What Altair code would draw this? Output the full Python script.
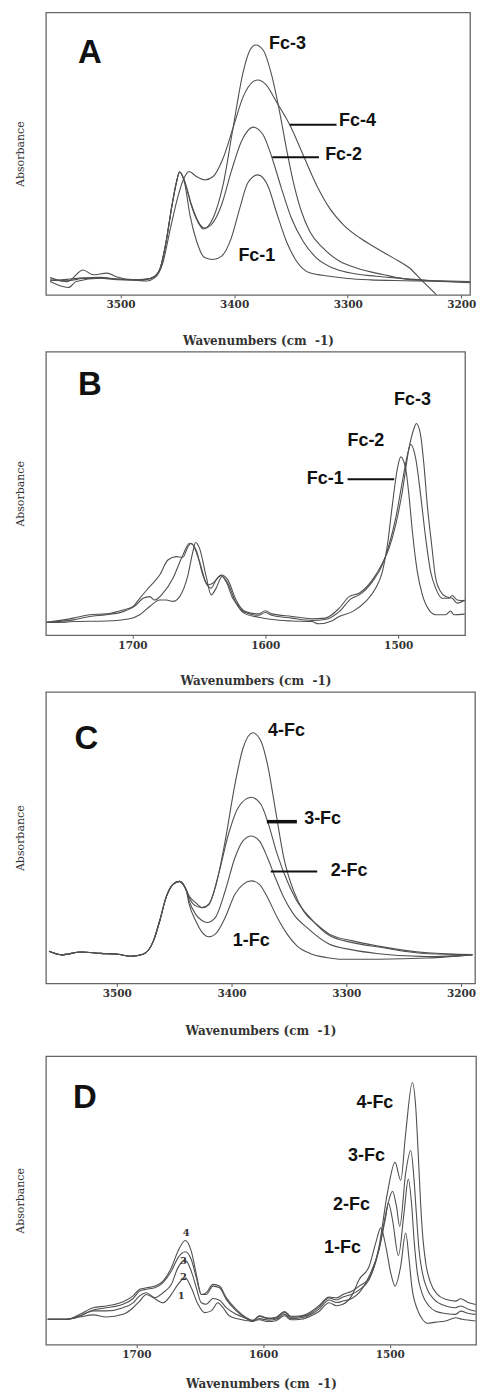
import altair as alt
import pandas as pd

# ---------------- Panel A (3560-3190 cm-1) ----------------
A_FC1_WN = [3562, 3547, 3533, 3524, 3512, 3503, 3489, 3477, 3470, 3465, 3460, 3455, 3451, 3448,
            3443.5, 3439, 3433, 3426, 3418.5, 3411, 3402.5, 3395, 3388, 3379, 3370, 3363, 3354,
            3345, 3333.5, 3316, 3300, 3280, 3250, 3225, 3192]
A_FC1_AB = [6.1, 4.7, 8.8, 7.1, 7.7, 6.3, 5.4, 5.6, 6.5, 9.5, 18.5, 31, 39.5, 43.5,
            39.5, 28.5, 19, 13.2, 12.5, 13.7, 20.1, 30.7, 39.6, 42.5, 38.4, 29.6, 19,
            11.9, 7.8, 6.6, 5.8, 5.3, 5.0, 4.8, 4.3]
A_FC2_WN = [3562, 3547, 3533, 3518, 3503, 3489, 3477, 3470, 3465, 3460, 3455, 3451, 3448,
            3443.5, 3437.6, 3430, 3426, 3420, 3411, 3402.5, 3393.6, 3383.3, 3374.5, 3367,
            3358.4, 3349.6, 3339.3, 3327.6, 3313, 3298.3, 3275, 3251, 3225, 3192]
A_FC2_AB = [5.0, 5.5, 6.0, 6.2, 5.6, 5.3, 5.5, 6.5, 9.5, 18.5, 31, 39.5, 43.5,
            40.2, 32, 24.9, 23.7, 24.9, 31.9, 43.7, 54.3, 59.4, 56.7, 49.0,
            37.8, 27.2, 19.0, 13.1, 9.5, 7.8, 6.6, 5.8, 5.0, 4.5]
A_FC3_WN = [3562, 3547, 3533, 3518, 3503, 3489, 3477, 3470, 3465, 3460, 3455, 3451, 3448,
            3443.5, 3437.6, 3430, 3427.3, 3418.5, 3409.7, 3401, 3392, 3386, 3381, 3374.5,
            3367, 3360, 3354, 3348, 3340.8, 3333.5, 3321.8, 3307, 3292.4, 3269, 3245.5, 3220, 3192]
A_FC3_AB = [5.3, 5.0, 5.8, 5.9, 5.4, 5.3, 5.5, 6.5, 9.5, 18.5, 31, 39.5, 43.5,
            40.0, 31.5, 24.5, 23.3, 27.2, 39.0, 59.0, 79.0, 86.7, 88.5, 86.7,
            77.9, 64.9, 51.9, 40.2, 29.6, 22.5, 16.6, 11.9, 9.5, 7.2, 5.4, 5.0, 4.7]
A_FC4_WN = [3562, 3546, 3539, 3518, 3503, 3489, 3477, 3470, 3463, 3456, 3450, 3445, 3439.6,
            3433.2, 3425.8, 3418.5, 3409.7, 3401, 3392, 3383.3, 3379, 3371.6, 3362.8, 3351,
            3339.3, 3327.6, 3316, 3304, 3289.5, 3275, 3260, 3245.5, 3234, 3225, 3215, 3205]
A_FC4_AB = [4.7, 2.6, 4.7, 5.9, 5.6, 5.3, 4.9, 6.0, 11.0, 23.7, 34.0, 40.5, 43.7,
            41.9, 40.7, 41.9, 48.4, 59.0, 70.2, 75.5, 76.1, 74.3, 68.4, 60.2,
            49.6, 39.0, 30.7, 24.9, 20.2, 16.6, 13.1, 9.5, 4.8, 1.3, -3.0, -7.0]

# ---------------- Panel B (1765-1450 cm-1) ----------------
B_FC1_WN = [1764.6, 1749.6, 1744.6, 1719.6, 1702, 1694.5, 1687, 1679.5, 1674.5, 1669.5,
            1664.5, 1658.2, 1654.5, 1652.5, 1649.5, 1644.5, 1640.7, 1637, 1632.5, 1628.2,
            1622, 1615, 1605, 1595, 1580, 1565, 1560, 1550, 1544.4, 1534.4,
            1524.4, 1516.9, 1511.9, 1508.1, 1504.4, 1500.6, 1498.1, 1494.4, 1491.9, 1489.3,
            1485.6, 1481.8, 1476.8, 1471.8, 1464.3, 1460.6, 1458.1, 1450]
B_FC1_AB = [4.5, 4.6, 4.8, 5.0, 5.8, 7.2, 10.1, 12.4, 12.4, 11.9,
            13.6, 21.2, 29.5, 32.7, 30.6, 20.7, 14.2, 16.6, 20.7, 18.3,
            11.3, 7.5, 6.3, 5.5, 5.0, 4.8, 4.0, 5.0, 6.6, 8.3,
            11.9, 16.6, 22.4, 31.8, 45.9, 58.8, 62.9, 58.8, 49.4, 36.5,
            22.4, 14.2, 8.9, 7.2, 7.2, 8.5, 7.2, 7.4]
B_FC2_WN = [1764.6, 1744.6, 1732.1, 1719.6, 1707, 1697, 1692, 1687, 1683.3, 1677,
            1669.5, 1662, 1657, 1652, 1647, 1643.2, 1639.5, 1633.2, 1628.2, 1622,
            1615, 1605, 1600, 1595, 1580, 1565, 1555, 1544.4, 1535.6, 1529.4,
            1519.4, 1511.9, 1506.9, 1501.9, 1496.9, 1493.1, 1490.6, 1486.8, 1483.1, 1479.3,
            1475.6, 1471.8, 1466.8, 1461.8, 1459.3, 1455.6, 1450]
B_FC2_AB = [4.5, 5.4, 6.6, 7.2, 8.3, 10.7, 13.0, 13.6, 12.4, 14.8,
            20.1, 28.3, 32.4, 30.0, 21.2, 17.7, 18.3, 21.2, 19.5, 12.4,
            8.0, 7.0, 8.0, 7.0, 6.0, 5.2, 5.5, 8.3, 12.8, 14.2,
            18.9, 24.8, 31.8, 41.2, 54.1, 63.5, 67.3, 62.3, 49.4, 34.2,
            22.4, 16.6, 13.0, 13.0, 14.0, 12.4, 12.1]
B_FC3_WN = [1764.6, 1744.6, 1732.1, 1719.6, 1707, 1699.5, 1694.5, 1687, 1679.5, 1673.3,
            1667, 1662, 1658.2, 1655.7, 1649.5, 1644.5, 1640.7, 1637, 1633.2, 1629.5,
            1624.5, 1619.5, 1615, 1605, 1600, 1595, 1580, 1565, 1555, 1544.4,
            1536.9, 1529.4, 1519.4, 1511.9, 1506.9, 1501.9, 1496.9, 1491.9, 1488.1, 1486.3,
            1483.1, 1480.6, 1478.1, 1474.8, 1471.8, 1468.1, 1464.3, 1459.3, 1455.6, 1450]
B_FC3_AB = [4.5, 6.0, 7.2, 7.5, 8.9, 10.1, 13.0, 17.1, 21.2, 26.5,
            27.7, 27.5, 31.2, 32.4, 25.9, 18.3, 16.6, 19.5, 21.0, 18.9,
            13.0, 10.1, 8.3, 7.5, 8.6, 7.5, 6.6, 5.8, 6.0, 9.5,
            13.6, 14.8, 19.5, 25.4, 30.6, 38.9, 50.6, 65.9, 72.9, 74.7,
            70.5, 60.0, 45.9, 31.8, 20.1, 15.4, 13.6, 13.0, 11.3, 12.4]

# ---------------- Panel C (3560-3190 cm-1) ----------------
C_SHARED_WN = [3559, 3548, 3531, 3514, 3499, 3488, 3477, 3468, 3462.5, 3457, 3451, 3445.4, 3439.7]
C_SHARED_AB = [11.0, 9.8, 10.8, 10.3, 10.0, 9.3, 10.0, 14.6, 21.5, 29.5, 34.0, 35.0, 32.3]
C_1FC_WN = [3436.9, 3431.2, 3425.5, 3419.8, 3414.1, 3405.5, 3397, 3390, 3382.8, 3375.7,
            3368.6, 3360.1, 3351.5, 3343, 3331.6, 3317.4, 3303.2, 3272, 3229, 3190]
C_1FC_AB = [27.2, 21.5, 17.5, 16.0, 16.9, 22.6, 30.6, 34.0, 35.2, 34.0,
            29.5, 22.6, 16.9, 12.9, 10.3, 8.9, 8.3, 8.3, 8.7, 9.8]
C_2FC_WN = [3436.9, 3431.2, 3425.5, 3421.2, 3414.1, 3405.5, 3397, 3390, 3382.8, 3375.7,
            3368.6, 3362.9, 3354.4, 3345.8, 3334.4, 3315, 3294.6, 3272, 3229, 3190]
C_2FC_AB = [28.3, 23.7, 21.5, 20.9, 22.6, 31.7, 43.1, 48.9, 50.6, 48.9,
            43.1, 37.4, 29.5, 23.7, 19.2, 13.5, 11.5, 10.2, 9.2, 9.8]
C_3FC_WN = [3436.9, 3431.2, 3425.5, 3419.8, 3411.3, 3402.7, 3394.2, 3382.8, 3374.3, 3368.6,
            3360.1, 3351.5, 3343, 3331.6, 3315, 3294.6, 3272, 3229, 3190]
C_3FC_AB = [29.5, 26.6, 26.0, 27.0, 37.4, 51.1, 60.3, 63.9, 61.4, 55.7,
            44.3, 35.2, 28.3, 22.6, 16.5, 14.0, 12.5, 10.2, 9.9]
C_4FC_WN = [3436.9, 3431.2, 3425.5, 3419.8, 3414.1, 3405.5, 3397, 3389.9, 3381.4, 3374.3,
            3368.6, 3361.5, 3354.4, 3345.8, 3337.3, 3325.9, 3315, 3294.6, 3272, 3229, 3190]
C_4FC_AB = [30.0, 27.7, 26.0, 27.2, 32.9, 48.9, 68.3, 80.8, 86.0, 83.1,
            75.1, 59.1, 43.1, 31.7, 24.9, 20.3, 17.0, 14.6, 12.8, 10.5, 9.9]

# ---------------- Panel D (1770-1432 cm-1) ----------------
D_4FC_WN = [1770, 1755, 1744.6, 1734.1, 1723.6, 1710.5, 1702.6, 1697.4, 1692.1, 1685.5,
            1679, 1672.4, 1667.2, 1661.4, 1656.7, 1652.7, 1648.8, 1644.9, 1639.6, 1634.4,
            1629.1, 1621.2, 1613.4, 1608.1, 1602.9, 1596, 1590, 1583, 1578, 1570,
            1562, 1556, 1548, 1542, 1537, 1530, 1524.2, 1516.3, 1508.5, 1501.9,
            1495.9, 1491.4, 1487.5, 1482.2, 1479.6, 1477.5, 1475.6, 1473.8, 1471.7, 1467.8,
            1462.5, 1456, 1448.1, 1444.1, 1437.6, 1432.3]
D_4FC_AB = [8.8, 8.8, 10.5, 12.8, 13.4, 14.9, 16.9, 19.2, 19.7, 20.3,
            22.0, 26.7, 32.4, 36.1, 32.4, 24.4, 17.4, 18.0, 20.9, 20.3,
            16.3, 12.2, 9.4, 8.4, 10.0, 9.2, 9.5, 11.5, 9.8, 10.0,
            11.5, 13.5, 16.5, 16.2, 17.4, 18.5, 20.3, 23.0, 34.1, 52.6,
            63.2, 57.0, 73.3, 90.9, 82.6, 65.3, 48.0, 36.4, 28.4, 21.4,
            17.4, 15.7, 15.1, 15.9, 14.5, 13.9]
D_3FC_WN = [1770, 1755, 1744.6, 1734.1, 1723.6, 1710.5, 1702.6, 1697.4, 1692.1, 1685.5,
            1679, 1672.4, 1667.2, 1661.4, 1656.7, 1652.7, 1648.8, 1644.9, 1639.6, 1634.4,
            1629.1, 1621.2, 1613.4, 1608.1, 1602.9, 1596, 1590, 1583, 1578, 1570,
            1562, 1556, 1548, 1542, 1537, 1530, 1524.2, 1516.3, 1508.5, 1501.9,
            1497.9, 1494.8, 1492.2, 1487.5, 1483.5, 1480.9, 1479.1, 1477, 1474.3, 1470.4,
            1465.1, 1456, 1448.1, 1444.1, 1437.6, 1432.3]
D_3FC_AB = [8.8, 8.8, 10.0, 12.0, 12.8, 14.0, 16.0, 18.6, 19.2, 19.7,
            21.5, 25.5, 30.1, 32.2, 29.5, 23.2, 17.4, 17.4, 20.3, 19.7,
            15.7, 11.7, 9.1, 8.2, 9.8, 9.0, 9.2, 11.2, 9.5, 9.7,
            11.0, 13.0, 16.2, 15.5, 16.5, 17.5, 19.0, 22.6, 33.0, 48.0,
            53.2, 48.0, 41.0, 59.5, 67.3, 57.2, 45.7, 33.0, 24.9, 19.1,
            15.7, 13.4, 12.8, 13.4, 12.2, 11.6]
D_2FC_WN = [1770, 1755, 1744.6, 1734.1, 1723.6, 1710.5, 1702.6, 1697.4, 1692.1, 1685.5,
            1679, 1672.4, 1667.2, 1661.4, 1656.7, 1652.7, 1648.8, 1644.9, 1639.6, 1634.4,
            1629.1, 1621.2, 1613.4, 1608.1, 1602.9, 1596, 1590, 1583, 1578, 1570,
            1562, 1556, 1548, 1542, 1537, 1530, 1524.2, 1516.3, 1508.5, 1503.2,
            1501.1, 1497.9, 1493.2, 1488.8, 1485.4, 1482.7, 1480.9, 1478.3, 1474.3, 1469.1,
            1463.8, 1456, 1448.1, 1444.1, 1437.6, 1432.3]
D_2FC_AB = [8.8, 8.8, 9.9, 11.7, 11.7, 12.8, 14.5, 16.9, 18.0, 16.3,
            18.0, 20.9, 26.7, 29.2, 25.5, 19.7, 14.5, 14.0, 16.0, 15.4,
            12.8, 10.5, 9.1, 8.0, 9.0, 8.5, 8.8, 10.5, 9.0, 9.3,
            10.5, 12.3, 15.5, 14.6, 15.1, 16.0, 18.0, 23.8, 33.0, 44.5,
            49.1, 43.3, 30.9, 45.7, 57.4, 48.0, 36.4, 24.9, 17.4, 13.4,
            11.6, 10.8, 10.5, 11.6, 10.8, 10.5]
D_1FC_WN = [1770, 1755, 1744.6, 1734.1, 1723.6, 1710.5, 1702.6, 1697.4, 1692.1, 1686.9,
            1679, 1672.4, 1667.2, 1661.4, 1656.7, 1651.4, 1646.2, 1640.9, 1635.7, 1631.7,
            1626.5, 1618.6, 1610.8, 1602.9, 1596, 1590, 1583, 1578, 1570, 1562,
            1556, 1548, 1542, 1537, 1530, 1524.2, 1516.3, 1511.1, 1507.1, 1503.2,
            1499.3, 1495.9, 1491.5, 1487.5, 1484.8, 1482.7, 1478.3, 1474.3, 1470.4, 1463.8,
            1456, 1448.1, 1442.8, 1432.3]
D_1FC_AB = [8.8, 8.8, 9.6, 10.3, 9.6, 10.5, 12.8, 15.1, 17.4, 16.3,
            14.5, 17.4, 20.9, 23.2, 19.7, 14.0, 11.1, 11.7, 14.5, 12.8,
            9.9, 8.8, 8.2, 8.6, 8.0, 8.3, 10.0, 8.6, 8.8, 10.0,
            11.5, 14.5, 13.5, 14.0, 17.0, 22.6, 27.2, 35.3, 40.5, 34.1,
            24.9, 20.3, 27.0, 38.7, 29.5, 20.3, 12.2, 8.8, 7.4, 7.8,
            8.2, 9.3, 8.8, 8.2]

# ---------------- axis ticks ----------------
NH_TICKS = [3500, 3400, 3300, 3200]
CO_TICKS = [1700, 1600, 1500]

SERIF = "DejaVu Serif"
SANS = "Liberation Sans"
LINE = "#505050"
XTITLE = "Wavenumbers (cm\u00a0\u00a0-1)"


def series_frame(series):
    rows = []
    for name, wns, abss in series:
        assert len(wns) == len(abss), name
        for w, a in zip(wns, abss):
            rows.append({"series": name, "wn": w, "absorb": a, "ord": -w})
    return pd.DataFrame(rows)


def panel(series, dom, ticks, width, height, tpad, letter, labels, rules, digits=None):
    df = series_frame(series)
    xs = alt.Scale(domain=dom, reverse=True, nice=False, zero=False)
    ys = alt.Scale(domain=[0, 100], nice=False, zero=False)
    xax = alt.Axis(values=ticks, format="d", title=XTITLE, grid=False, domain=False,
                   ticks=True, tickSize=3, tickColor="#555", labelFont=SERIF,
                   labelFontSize=10.5, labelFontWeight="bold", labelColor="#333",
                   labelPadding=2, labelFlush=False, titleFont=SERIF, titleFontSize=12,
                   titleFontWeight="bold", titleColor="#333", titlePadding=tpad)
    yax = alt.Axis(title="Absorbance", labels=False, ticks=False, domain=False, grid=False,
                   titleFont=SERIF, titleFontSize=11, titleFontWeight="normal",
                   titleColor="#333", titlePadding=20)
    xe = alt.X("wn:Q", scale=xs, axis=xax)
    ye = alt.Y("absorb:Q", scale=ys, axis=yax)
    lines = alt.Chart(df).mark_line(interpolate="monotone", clip=True, color=LINE,
                                    strokeWidth=1.1).encode(
        x=xe, y=ye, detail="series:N", order=alt.Order("ord:Q"))
    layers = [lines]
    ldf = pd.DataFrame([{"wn": letter[0], "absorb": letter[1], "text": letter[2]}])
    layers.append(alt.Chart(ldf).mark_text(font=SANS, fontSize=33, fontWeight="bold",
                                           color="#111", align="center", baseline="middle")
                  .encode(x=xe, y=ye, text="text:N"))
    tdf = pd.DataFrame(labels, columns=["wn", "absorb", "text"])
    layers.append(alt.Chart(tdf).mark_text(font=SANS, fontSize=18, fontWeight="bold",
                                           color="#111", align="center", baseline="middle")
                  .encode(x=xe, y=ye, text="text:N"))
    if rules:
        rdf = pd.DataFrame(rules, columns=["wn", "wn2", "absorb", "sw"])
        layers.append(alt.Chart(rdf).mark_rule(color="#111").encode(
            x=xe, x2="wn2:Q", y=ye, strokeWidth=alt.StrokeWidth("sw:Q", scale=None)))
    if digits:
        ddf = pd.DataFrame(digits, columns=["wn", "absorb", "text"])
        layers.append(alt.Chart(ddf).mark_text(font=SERIF, fontSize=10, fontWeight="bold",
                                               color="#333", align="center", baseline="middle")
                      .encode(x=xe, y=ye, text="text:N"))
    return alt.layer(*layers).properties(width=width, height=height)


pA = panel(
    [("Fc-1", A_FC1_WN, A_FC1_AB), ("Fc-2", A_FC2_WN, A_FC2_AB),
     ("Fc-3", A_FC3_WN, A_FC3_AB), ("Fc-4", A_FC4_WN, A_FC4_AB)],
    [3192.3, 3565.7], NH_TICKS, 425, 283, 25,
    (3527, 85.5, "A"),
    [(3353, 89, "Fc-3"), (3291.3, 61.5, "Fc-4"), (3303.6, 49.5, "Fc-2"), (3380, 13.8, "Fc-1")],
    [(3351, 3309.8, 60.2, 2), (3366.3, 3325.3, 48.7, 2)],
)
pB = panel(
    [("Fc-1", B_FC1_WN, B_FC1_AB), ("Fc-2", B_FC2_WN, B_FC2_AB), ("Fc-3", B_FC3_WN, B_FC3_AB)],
    [1449.7, 1765.1], CO_TICKS, 420, 284, 25,
    (1732, 88.4, "B"),
    [(1489.3, 82.9, "Fc-3"), (1524.3, 68.4, "Fc-2"), (1554.9, 55.0, "Fc-1")],
    [(1538.1, 1503, 55.0, 2)],
)
pC = panel(
    [("1-Fc", C_SHARED_WN + C_1FC_WN, C_SHARED_AB + C_1FC_AB),
     ("2-Fc", C_SHARED_WN + C_2FC_WN, C_SHARED_AB + C_2FC_AB),
     ("3-Fc", C_SHARED_WN + C_3FC_WN, C_SHARED_AB + C_3FC_AB),
     ("4-Fc", C_SHARED_WN + C_4FC_WN, C_SHARED_AB + C_4FC_AB)],
    [3187.8, 3561.7], NH_TICKS, 430, 292, 27,
    (3526.5, 83.7, "C"),
    [(3352.1, 86.5, "4-Fc"), (3320.6, 56.3, "3-Fc"), (3297.5, 38.6, "2-Fc"), (3382.8, 14.6, "1-Fc")],
    [(3369.2, 3343, 55.5, 3.5), (3365.8, 3325.3, 38.4, 2)],
)
pD = panel(
    [("1-Fc", D_1FC_WN, D_1FC_AB), ("2-Fc", D_2FC_WN, D_2FC_AB),
     ("3-Fc", D_3FC_WN, D_3FC_AB), ("4-Fc", D_4FC_WN, D_4FC_AB)],
    [1432.0, 1771.4], CO_TICKS, 431, 289, 18,
    (1740.7, 85.5, "D"),
    [(1511.8, 83.7, "4-Fc"), (1518.4, 65.3, "3-Fc"), (1530.2, 48.5, "2-Fc"), (1537.3, 33.6, "1-Fc")],
    [],
    digits=[(1660.6, 38.6, "4"), (1662.8, 29.0, "3"), (1662.8, 23.5, "2"), (1664.6, 16.9, "1")],
)

chart = alt.vconcat(
    alt.vconcat(pA, pB, pC, spacing=3),
    pD,
    spacing=17,
).properties(
    padding={"left": 6, "top": 2, "right": 0, "bottom": 0}
).configure_view(stroke="#666", strokeWidth=1.3)

chart.save("out.html", embed_options={"renderer": "svg", "actions": False})
